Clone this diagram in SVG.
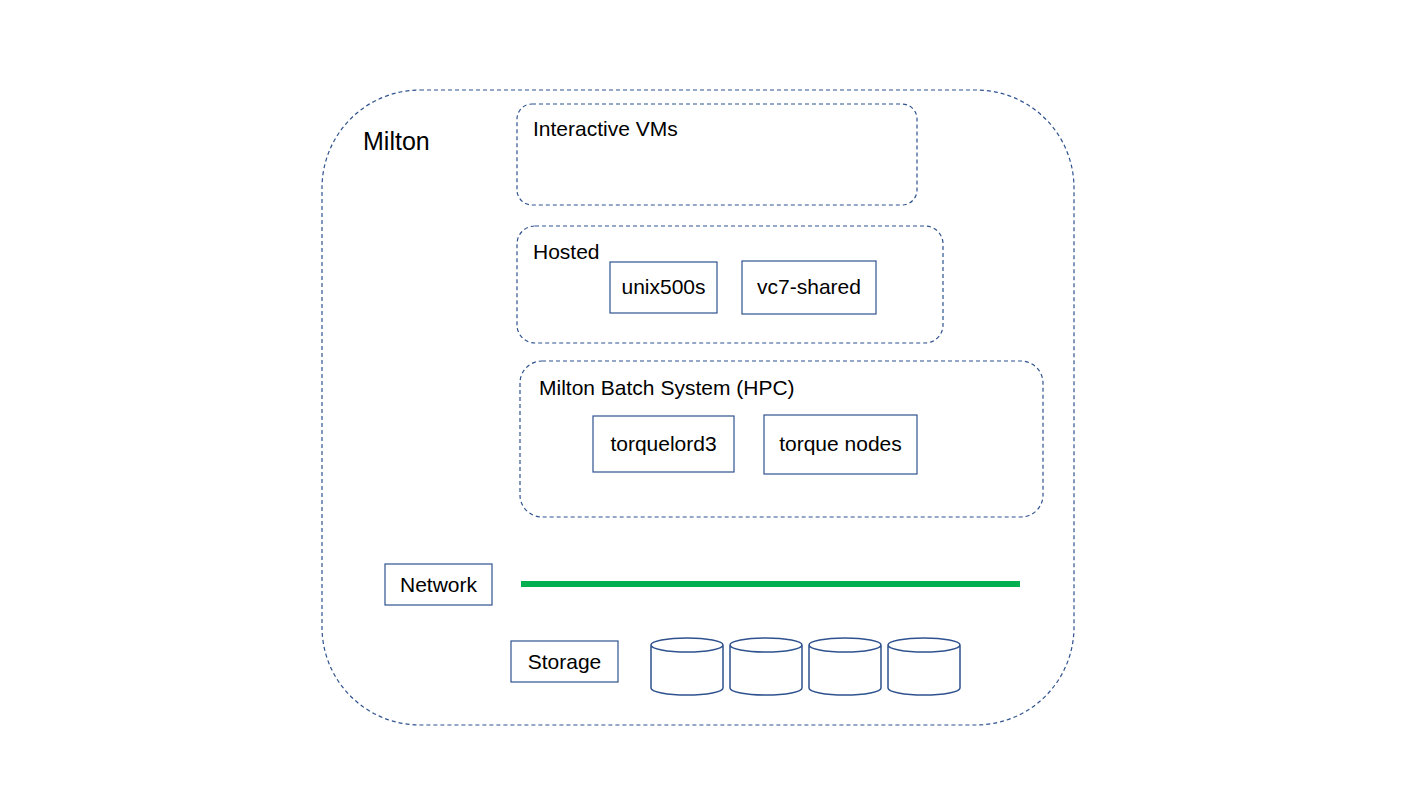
<svg xmlns="http://www.w3.org/2000/svg" width="1422" height="800" viewBox="0 0 1422 800">
<style>
.grp{fill:none;stroke:#2F528F;stroke-width:1.2;stroke-dasharray:4 3}
.box{fill:#fff;stroke:#2F528F;stroke-width:1.2}
.cyl{fill:#fff;stroke:#2F528F;stroke-width:1.5}
text{font-family:"Liberation Sans",Arial,sans-serif;font-size:21px;fill:#000}
.c{text-anchor:middle}
</style>
<rect width="1422" height="800" fill="#fff"/>
<g id="milton">
<rect class="grp" x="322" y="90" width="752" height="635" rx="98" ry="98"/>
<text x="363" y="150" style="font-size:25px">Milton</text>
</g>
<g id="interactive-vms">
<rect class="grp" x="517" y="104" width="400" height="101" rx="15" ry="15"/>
<text x="533" y="136">Interactive VMs</text>
</g>
<g id="hosted">
<rect class="grp" x="517" y="226" width="426" height="117" rx="18" ry="18"/>
<text x="533" y="259">Hosted</text>
</g>
<g id="unix500s">
<rect class="box" x="610" y="262" width="107" height="51"/>
<text class="c" x="663.5" y="294">unix500s</text>
</g>
<g id="vc7-shared">
<rect class="box" x="742" y="261" width="134" height="53"/>
<text class="c" x="809" y="294">vc7-shared</text>
</g>
<g id="batch">
<rect class="grp" x="520" y="361" width="523" height="156" rx="22" ry="22"/>
<text x="539" y="395">Milton Batch System (HPC)</text>
</g>
<g id="torquelord3">
<rect class="box" x="593" y="416" width="141" height="56"/>
<text class="c" x="663.5" y="451">torquelord3</text>
</g>
<g id="torque-nodes">
<rect class="box" x="764" y="415" width="153" height="59"/>
<text class="c" x="840.5" y="451">torque nodes</text>
</g>
<g id="network">
<rect class="box" x="385" y="564" width="107" height="41"/>
<text class="c" x="438.5" y="592">Network</text>
</g>
<g id="connectors">
<line x1="521" y1="584" x2="1020" y2="584" stroke="#00B050" stroke-width="6"/>
</g>
<g id="storage">
<rect class="box" x="511" y="641" width="107" height="41"/>
<text class="c" x="564.5" y="669">Storage</text>
</g>
<g id="disks">
<g id="disk1"><path class="cyl" d="M651,645 v43 a36,7 0 0 0 72,0 v-43 a36,7 0 0 0 -72,0 a36,7 0 0 0 72,0"/></g>
<g id="disk2"><path class="cyl" d="M730,645 v43 a36,7 0 0 0 72,0 v-43 a36,7 0 0 0 -72,0 a36,7 0 0 0 72,0"/></g>
<g id="disk3"><path class="cyl" d="M809,645 v43 a36,7 0 0 0 72,0 v-43 a36,7 0 0 0 -72,0 a36,7 0 0 0 72,0"/></g>
<g id="disk4"><path class="cyl" d="M888,645 v43 a36,7 0 0 0 72,0 v-43 a36,7 0 0 0 -72,0 a36,7 0 0 0 72,0"/></g>
</g>
</svg>
